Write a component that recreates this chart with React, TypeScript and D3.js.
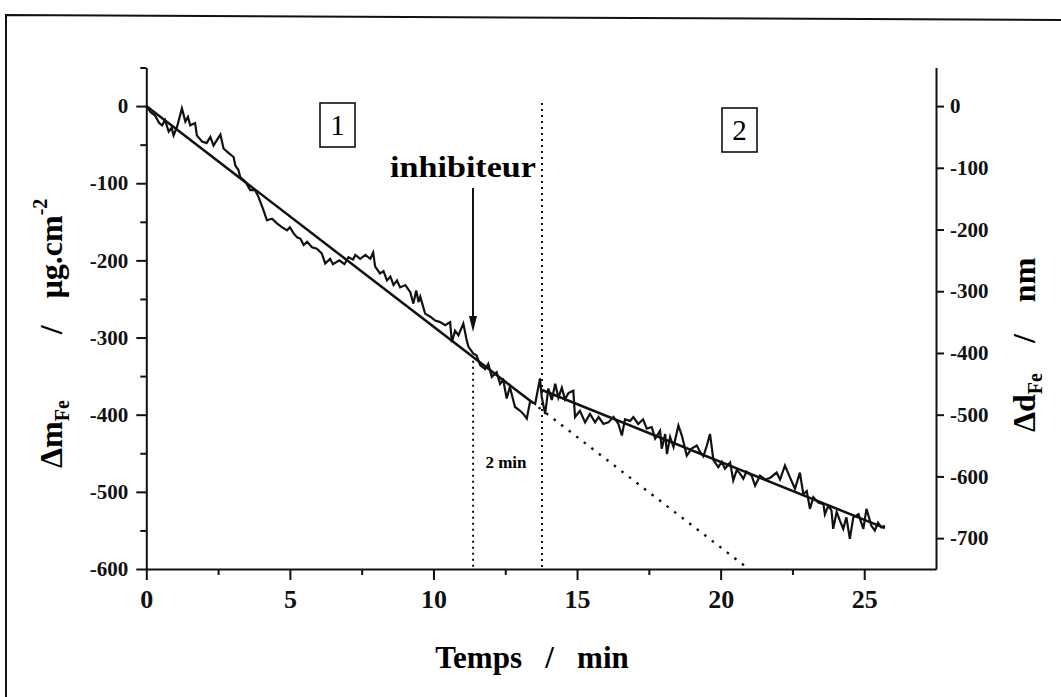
import React, { useEffect, useRef } from 'react';
import * as d3 from 'd3';

// ---- data ----
const timeMin = [
  0.0, 0.15, 0.3, 0.45, 0.55, 0.65, 0.78, 0.88, 0.95, 1.07, 1.24, 1.36, 1.45, 1.53, 1.7, 1.76, 1.94, 2.1, 2.23, 2.34,
  2.58, 2.69, 2.87, 3.04, 3.1, 3.21, 3.27, 3.45, 3.62, 3.79, 3.91, 4.08, 4.2, 4.38, 4.55, 4.72, 4.9, 5.0, 5.13, 5.25,
  5.37, 5.48, 5.6, 5.77, 5.94, 6.11, 6.23, 6.4, 6.5, 6.72, 6.9, 7.04, 7.2, 7.28, 7.45, 7.63, 7.8, 7.9, 7.97, 8.14,
  8.26, 8.38, 8.5, 8.61, 8.73, 8.84, 9.02, 9.19, 9.3, 9.4, 9.48, 9.54, 9.71, 9.89, 10.06, 10.23, 10.41, 10.58, 10.64, 10.75,
  10.87, 11.04, 11.16, 11.22, 11.39, 11.5, 11.63, 11.8, 11.91, 12.03, 12.2, 12.32, 12.43, 12.55, 12.66, 12.84, 13.02, 13.13, 13.25, 13.37,
  13.54, 13.71, 13.77, 13.89, 14.0, 14.12, 14.24, 14.35, 14.47, 14.58, 14.7, 14.87, 14.93, 15.1, 15.28, 15.45, 15.63, 15.75, 15.92, 16.09,
  16.27, 16.44, 16.56, 16.67, 16.85, 16.96, 17.13, 17.3, 17.43, 17.6, 17.72, 17.89, 17.95, 18.07, 18.13, 18.24, 18.36, 18.53, 18.65, 18.82,
  18.99, 19.17, 19.28, 19.4, 19.52, 19.63, 19.75, 19.92, 20.04, 20.15, 20.33, 20.44, 20.56, 20.67, 20.79, 20.9, 21.08, 21.2, 21.37, 21.55,
  21.72, 21.95, 22.07, 22.24, 22.41, 22.59, 22.76, 22.88, 23.0, 23.11, 23.23, 23.4, 23.58, 23.63, 23.75, 23.86, 23.92, 24.04, 24.15, 24.27,
  24.38, 24.5, 24.62, 24.8, 24.97, 25.08, 25.25, 25.37, 25.48, 25.6, 25.72,
];
const massUg = [
  0, -8, -12, -22, -25, -18, -33, -28, -38, -27, -3, -20, -14, -25, -22, -38, -46, -48, -40, -51,
  -37, -55, -61, -66, -77, -83, -92, -98, -109, -109, -118, -135, -148, -146, -152, -157, -161, -157, -165, -170,
  -172, -180, -176, -183, -185, -191, -204, -198, -205, -200, -205, -196, -199, -193, -198, -193, -198, -190, -208, -217,
  -214, -226, -221, -232, -226, -235, -232, -241, -256, -239, -254, -247, -269, -273, -278, -280, -284, -280, -306, -291,
  -297, -282, -304, -312, -321, -323, -336, -341, -334, -351, -345, -360, -355, -379, -364, -390, -395, -399, -405, -382,
  -386, -353, -377, -399, -366, -381, -360, -378, -365, -380, -372, -369, -403, -395, -410, -399, -410, -403, -412, -410,
  -403, -412, -427, -406, -408, -403, -412, -406, -418, -416, -431, -421, -444, -425, -451, -429, -442, -414, -427, -453,
  -444, -440, -448, -454, -440, -425, -459, -468, -461, -470, -462, -485, -472, -476, -483, -474, -479, -492, -479, -484,
  -482, -475, -484, -466, -481, -496, -475, -503, -499, -522, -507, -514, -516, -529, -518, -524, -548, -526, -537, -548,
  -533, -561, -533, -529, -548, -522, -544, -550, -540, -546, -544,
];
const fit1Time = [0, 13.4];
const fit1Mass = [0, -383];
const extrapTime = [13.4, 20.98];
const extrapMass = [-383, -600];
const fit2Time = [13.78, 25.72];
const fit2Mass = [-368, -547];
const markerTimes = [11.38, 13.78];
const xTicks = [0, 5, 10, 15, 20, 25];
const xMinorTicks = [2.5, 7.5, 12.5, 17.5, 22.5];
const leftTicks = [0, -100, -200, -300, -400, -500, -600];
const leftMinorTicks = [50, -50, -150, -250, -350, -450, -550];
const rightTicks = [0, -100, -200, -300, -400, -500, -600, -700];
const NM_PER_UG = 1.25;

const FONT = "'Liberation Serif', 'Times New Roman', serif";

export default function App() {
  const W = 1061, H = 697;
  const x = d3.scaleLinear().domain([0, 27.5]).range([146.3, 936]);
  const yL = d3.scaleLinear().domain([-600, 50]).range([569, 67.5]);
  const yR = d3.scaleLinear().domain([-600 * NM_PER_UG, 50 * NM_PER_UG]).range([569, 67.5]);

  const gLeft = useRef<SVGGElement>(null);
  const gLeftMinor = useRef<SVGGElement>(null);
  const gBottom = useRef<SVGGElement>(null);
  const gBottomMinor = useRef<SVGGElement>(null);
  const gRight = useRef<SVGGElement>(null);

  useEffect(() => {
    const style = (g: any, fs: number) => {
      g.select('.domain').attr('stroke', '#111').attr('stroke-width', 2);
      g.selectAll('.tick line').attr('stroke', '#111').attr('stroke-width', 2);
      g.selectAll('.tick text')
        .attr('font-family', FONT)
        .attr('font-weight', 'bold')
        .attr('font-size', fs)
        .attr('fill', '#111');
    };
    const fmt = (d: any) => String(d);
    const l = d3.select(gLeft.current);
    l.call(d3.axisLeft(yL).tickValues(leftTicks).tickSize(10).tickSizeOuter(0).tickPadding(8).tickFormat(fmt) as any);
    style(l, 21);
    const lm = d3.select(gLeftMinor.current);
    lm.call(d3.axisLeft(yL).tickValues(leftMinorTicks).tickSize(6).tickSizeOuter(0).tickFormat(() => '') as any);
    style(lm, 10);
    lm.select('.domain').remove();

    const b = d3.select(gBottom.current);
    b.call(d3.axisBottom(x).tickValues(xTicks).tickSize(11).tickSizeOuter(0).tickPadding(10).tickFormat(fmt) as any);
    style(b, 26);
    const bm = d3.select(gBottomMinor.current);
    bm.call(d3.axisBottom(x).tickValues(xMinorTicks).tickSize(6).tickSizeOuter(0).tickFormat(() => '') as any);
    style(bm, 10);
    bm.select('.domain').remove();

    const r = d3.select(gRight.current);
    r.call(d3.axisRight(yR).tickValues(rightTicks).tickSize(8).tickSizeOuter(0).tickPadding(6).tickFormat(fmt) as any);
    style(r, 21);
  }, []);

  const dataLine = d3.line<number>().x((_, i) => x(timeMin[i])).y((d) => yL(d))(massUg) || '';
  const seg = (ts: number[], ms: number[]) =>
    d3.line<number>().x((_, i) => x(ts[i])).y((d) => yL(d))(ms) || '';

  return (
    <svg width={W} height={H} style={{ position: 'absolute', left: 0, top: 0, background: '#fff' }}>
      <rect x={0} y={0} width={W} height={H} fill="#fff" />
      <path d="M6,697 L6,15 L1061,20" fill="none" stroke="#111" strokeWidth={2} />

      <g ref={gLeft} transform={`translate(${x(0)},0)`} />
      <g ref={gLeftMinor} transform={`translate(${x(0)},0)`} />
      <g ref={gBottom} transform={`translate(0,${yL(-600)})`} />
      <g ref={gBottomMinor} transform={`translate(0,${yL(-600)})`} />
      <g ref={gRight} transform={`translate(${x(27.5)},0)`} />

      {/* vertical dotted markers */}
      <line x1={x(markerTimes[0])} x2={x(markerTimes[0])} y1={yL(-330)} y2={yL(-600)}
        stroke="#111" strokeWidth={2} strokeDasharray="2,4" />
      <line x1={x(markerTimes[1])} x2={x(markerTimes[1])} y1={yL(4)} y2={yL(-600)}
        stroke="#111" strokeWidth={2} strokeDasharray="2,4" />

      {/* fits */}
      <path d={seg(fit1Time, fit1Mass)} fill="none" stroke="#111" strokeWidth={2.5} />
      <path d={seg(extrapTime, extrapMass)} fill="none" stroke="#111" strokeWidth={2.4} strokeDasharray="2.5,7" />
      <path d={seg(fit2Time, fit2Mass)} fill="none" stroke="#111" strokeWidth={2.5} />

      {/* measured data */}
      <path d={dataLine} fill="none" stroke="#111" strokeWidth={2.2} strokeLinejoin="miter" />

      {/* arrow */}
      <line x1={473} x2={473} y1={188} y2={322} stroke="#111" strokeWidth={2} />
      <path d="M469,316 L473,332 L477,316 Z" fill="#111" />
      <text x={463} y={177} textAnchor="middle" fontFamily={FONT} fontWeight="bold" fontSize={29}
        textLength={146} lengthAdjust="spacingAndGlyphs">inhibiteur</text>

      <text x={506} y={468} textAnchor="middle" fontFamily={FONT} fontWeight="bold" fontSize={17}>2 min</text>

      {/* boxes */}
      <rect x={320} y={103} width={35} height={44} fill="none" stroke="#111" strokeWidth={1.6} />
      <text x={337.5} y={135} textAnchor="middle" fontFamily={FONT} fontSize={29}>1</text>
      <rect x={722} y={108} width={35} height={44} fill="none" stroke="#111" strokeWidth={1.6} />
      <text x={739.5} y={140} textAnchor="middle" fontFamily={FONT} fontSize={29}>2</text>

      {/* axis titles */}
      <text x={532} y={668} textAnchor="middle" fontFamily={FONT} fontWeight="bold" fontSize={31}
        style={{ whiteSpace: 'pre' }}>Temps   /   min</text>

      <text transform="translate(62,468) rotate(-90)" textAnchor="start" fontFamily={FONT} fontWeight="bold"
        fontSize={32}>
        <tspan>Δm</tspan>
        <tspan fontSize={20} dy={7}>Fe</tspan>
        <tspan dy={-7} dx={66}>/</tspan>
        <tspan dx={27}>μg.cm</tspan>
        <tspan fontSize={20} dy={-15}>-2</tspan>
      </text>

      <text transform="translate(1035,432) rotate(-90)" textAnchor="start" fontFamily={FONT} fontWeight="bold"
        fontSize={32}>
        <tspan>Δd</tspan>
        <tspan fontSize={20} dy={7}>Fe</tspan>
        <tspan dy={-7} dx={30}>/</tspan>
        <tspan dx={32}>nm</tspan>
      </text>
    </svg>
  );
}
